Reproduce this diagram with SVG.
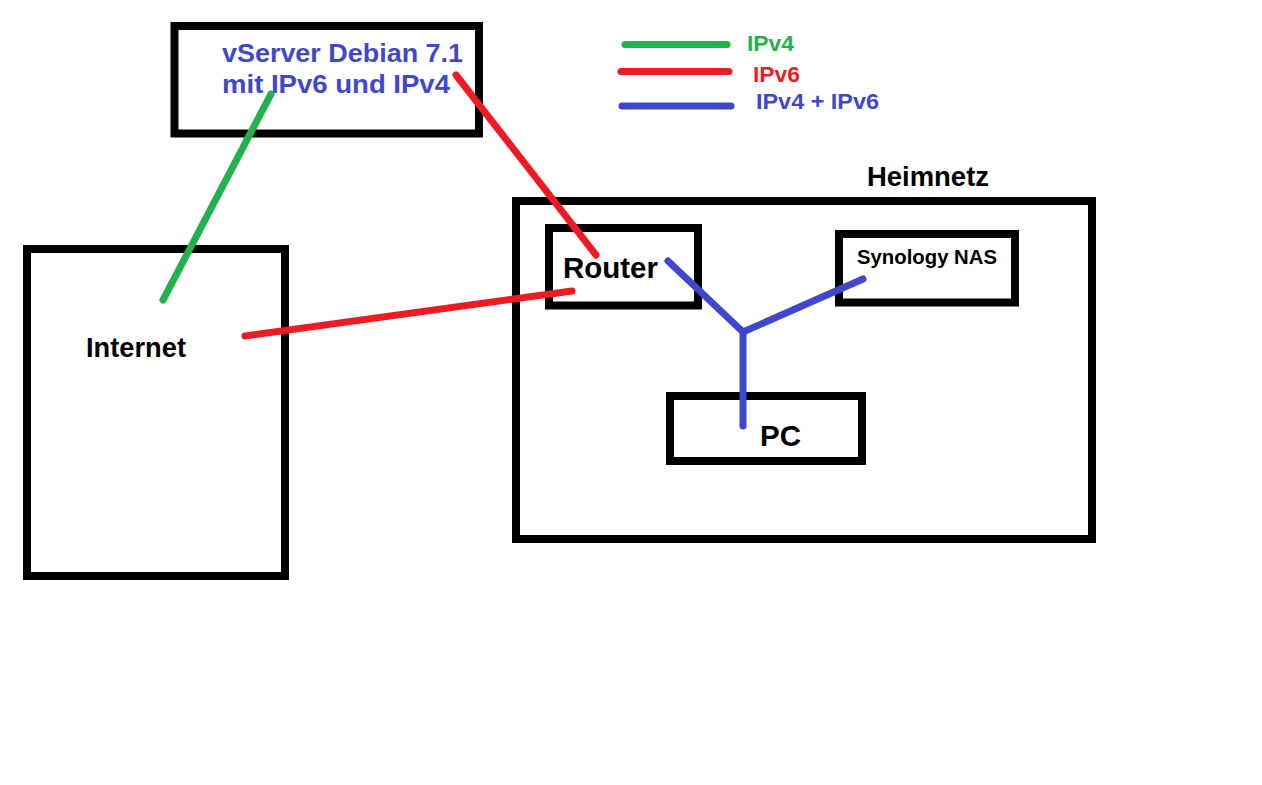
<svg xmlns="http://www.w3.org/2000/svg" width="1262" height="785" viewBox="0 0 1262 785">
  <style>
    .box { fill: none; stroke: #000; stroke-width: 8; }
    .t { font-family: "Liberation Sans", Arial, sans-serif; font-weight: bold; }
    .blk { fill: #000; }
    .c { fill: none; stroke-width: 7; stroke-linecap: round; stroke-linejoin: round; }
    .g { stroke: #22b14c; }
    .r { stroke: #ed1c24; }
    .b { stroke: #3f48cc; }
  </style>
  <rect width="1262" height="785" fill="#fff"/>

  <g id="vserver">
    <rect class="box" x="174.5" y="26" width="304.5" height="107.5"/>
    <text class="t" x="222" y="61.5" font-size="25" fill="#3f48cc" textLength="241" lengthAdjust="spacingAndGlyphs">vServer Debian 7.1</text>
    <text class="t" x="222" y="92.5" font-size="25" fill="#3f48cc" textLength="228" lengthAdjust="spacingAndGlyphs">mit IPv6 und IPv4</text>
  </g>

  <g id="internet">
    <rect class="box" x="27" y="249" width="258" height="327"/>
    <text class="t blk" x="86" y="357" font-size="27" textLength="100" lengthAdjust="spacingAndGlyphs">Internet</text>
  </g>

  <g id="heimnetz">
    <rect class="box" x="516" y="201" width="576" height="338"/>
    <text class="t blk" x="867" y="186" font-size="27" textLength="122" lengthAdjust="spacingAndGlyphs">Heimnetz</text>
  </g>

  <g id="router">
    <rect class="box" x="549" y="228" width="149" height="77.5"/>
    <text class="t blk" x="563" y="278" font-size="30" textLength="95" lengthAdjust="spacingAndGlyphs">Router</text>
  </g>

  <g id="nas">
    <rect class="box" x="839" y="234" width="176" height="68.5"/>
    <text class="t blk" x="857" y="264" font-size="19.5" textLength="140" lengthAdjust="spacingAndGlyphs">Synology NAS</text>
  </g>

  <g id="pc">
    <rect class="box" x="670" y="396" width="192" height="65"/>
    <text class="t blk" x="760" y="446" font-size="30" textLength="41" lengthAdjust="spacingAndGlyphs">PC</text>
  </g>

  <g id="legend">
    <line class="c g" x1="625" y1="44.5" x2="727" y2="44.5"/>
    <line class="c r" x1="621" y1="71.5" x2="729" y2="71.5"/>
    <line class="c b" x1="622" y1="106" x2="731" y2="106" stroke-width="8"/>
    <text class="t" x="747" y="50.5" font-size="22" fill="#22b14c" textLength="47" lengthAdjust="spacingAndGlyphs">IPv4</text>
    <text class="t" x="753" y="82" font-size="22" fill="#ed1c24" textLength="47" lengthAdjust="spacingAndGlyphs">IPv6</text>
    <text class="t" x="756" y="108.5" font-size="22" fill="#3f48cc" textLength="123" lengthAdjust="spacingAndGlyphs">IPv4 + IPv6</text>
  </g>

  <g id="connectors">
    <line class="c g" x1="163" y1="300" x2="271" y2="94"/>
    <line class="c r" x1="456" y1="75" x2="596" y2="255"/>
    <line class="c r" x1="245" y1="336" x2="572" y2="291"/>
    <polyline class="c b" points="668,261 743,332 863,279"/>
    <line class="c b" x1="743" y1="332" x2="743" y2="426"/>
  </g>
</svg>
